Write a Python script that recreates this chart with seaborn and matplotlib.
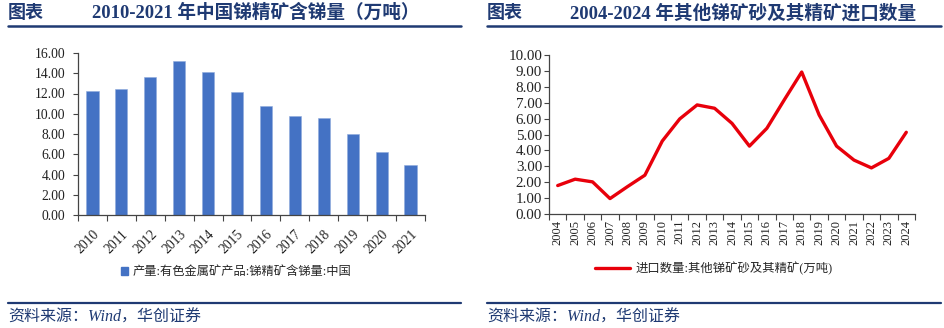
import matplotlib
matplotlib.use("Agg")
import matplotlib.pyplot as plt
from matplotlib.lines import Line2D
from matplotlib.patches import Patch
import numpy as np
import pandas as pd
import seaborn as sns

# ---------------- data ----------------
years_left = ["2010", "2011", "2012", "2013", "2014", "2015",
              "2016", "2017", "2018", "2019", "2020", "2021"]
output_left = [12.28, 12.41, 13.60, 15.24, 14.09, 12.12,
               10.77, 9.78, 9.55, 8.00, 6.22, 4.91]

years_right = list(range(2004, 2025))
imports_right = [1.79, 2.19, 2.02, 0.97, 1.72, 2.44, 4.59, 5.98, 6.86, 6.65,
                 5.70, 4.27, 5.39, 7.18, 8.93, 6.23, 4.27, 3.39, 2.90, 3.50, 5.14]

left_ticks = [0, 2, 4, 6, 8, 10, 12, 14, 16]
right_ticks = [0, 1, 2, 3, 4, 5, 6, 7, 8, 9, 10]

title_left = "2010-2021 年中国锑精矿含锑量（万吨）"
title_right = "2004-2024 年其他锑矿砂及其精矿进口数量"
legend_left = "产量:有色金属矿产品:锑精矿含锑量:中国"
legend_right = "进口数量:其他锑矿砂及其精矿(万吨)"
source = "资料来源：Wind，华创证券"

# ---------------- style ----------------
sns.set_theme(style="white")
plt.rcParams['font.family'] = ['Liberation Serif', 'Noto Sans CJK SC', 'DejaVu Sans']
plt.rcParams['axes.unicode_minus'] = False

W, H = 945, 328
fig = plt.figure(figsize=(W / 100, H / 100), dpi=100)
fig.patch.set_facecolor("white")

NAVY = "#1F3A73"
BAR = "#4472C4"
RED = "#E8000B"
TICKC = "#222222"
cjk = ['Liberation Serif', 'Noto Sans CJK SC', 'DejaVu Sans']


def px_axes(x0, y0, x1, y1):
    return fig.add_axes([x0 / W, 1 - y1 / H, (x1 - x0) / W, (y1 - y0) / H])


def header(x0, x1, tx, title):
    fig.text(x0 / W, 1 - 13 / H, "图表", fontsize=13, fontweight="bold",
             color=NAVY, family=cjk, va="center", ha="left")
    fig.text(tx / W, 1 - 13 / H, title, fontsize=13.4, fontweight="bold",
             color=NAVY, family=cjk, va="center", ha="left")
    fig.add_artist(Line2D([x0 / W, x1 / W], [1 - 25.5 / H, 1 - 25.5 / H],
                          color=NAVY, lw=1.8, transform=fig.transFigure))
    fig.add_artist(Line2D([x0 / W, x1 / W], [1 - 303 / H, 1 - 303 / H],
                          color=NAVY, lw=1.6, transform=fig.transFigure))
    fig.text(x0 / W, 1 - 318 / H, source, fontsize=11.5, style="italic",
             color=NAVY, family=cjk, va="center", ha="left")


def style_axes(ax, ysize, ypad):
    sns.despine(ax=ax, top=True, right=True)
    for s in ("left", "bottom"):
        ax.spines[s].set_color("#444444")
        ax.spines[s].set_linewidth(0.9)
    ax.grid(False)
    ax.set_xlabel("")
    ax.set_ylabel("")
    ax.tick_params(axis="y", which="major", direction="out", length=3.5, width=0.8,
                   color="#444444", labelsize=ysize, labelcolor=TICKC, pad=ypad, left=True)
    ax.tick_params(axis="x", which="major", length=0, labelsize=9, labelcolor=TICKC, pad=4)
    ax.tick_params(axis="x", which="minor", direction="out", length=4, width=0.8,
                   color="#444444", bottom=True)


# ---------------- left: bar chart ----------------
header(8, 461, 92, title_left)
axL = px_axes(78, 53, 425, 215)
dfL = pd.DataFrame({"year": years_left, "value": output_left})
sns.barplot(data=dfL, x="year", y="value", color=BAR, width=0.42,
            saturation=1, ax=axL, edgecolor="#8FAADC", linewidth=0.4)
axL.set_xlim(-0.5, len(years_left) - 0.5)
axL.set_ylim(0, 16)
axL.set_yticks(left_ticks)
axL.set_yticklabels([f"{v:.2f}" for v in left_ticks])
axL.set_xticks(np.arange(len(years_left)))
axL.set_xticklabels(years_left, rotation=45, ha="right", rotation_mode="anchor")
axL.set_xticks(np.arange(-0.5, len(years_left)), minor=True)
style_axes(axL, 9.8, 5.5)
axL.tick_params(axis="x", which="major", pad=9, labelsize=9.8)
axL.legend(handles=[Patch(facecolor=BAR, edgecolor=BAR, label=legend_left)],
           loc="center", bbox_to_anchor=(236 / W, 1 - 272 / H),
           bbox_transform=fig.transFigure, frameon=False,
           handlelength=0.6, handleheight=0.6, handletextpad=0.3,
           prop={"family": cjk, "size": 8.8})

# ---------------- right: line chart ----------------
header(487, 941, 570, title_right)
axR = px_axes(549, 55, 915, 214)
dfR = pd.DataFrame({"year": years_right, "value": imports_right})
sns.lineplot(data=dfR, x="year", y="value", color=RED, linewidth=2.4, ax=axR)
axR.set_xlim(years_right[0] - 0.5, years_right[-1] + 0.5)
axR.set_ylim(0, 10)
axR.set_yticks(right_ticks)
axR.set_yticklabels([f"{v:.2f}" for v in right_ticks])
axR.set_xticks(years_right)
axR.set_xticklabels([str(y) for y in years_right], rotation=90)
axR.set_xticks(np.arange(years_right[0] - 0.5, years_right[-1] + 1), minor=True)
style_axes(axR, 10.8, 1.5)
axR.legend(handles=[Line2D([0], [0], color=RED, lw=2.4, label=legend_right)],
           loc="center", bbox_to_anchor=(714 / W, 1 - 269 / H),
           bbox_transform=fig.transFigure, frameon=False,
           handlelength=2.8, handletextpad=0.5,
           prop={"family": cjk, "size": 8.9})

fig.savefig("out.png", dpi=100, facecolor="white")
